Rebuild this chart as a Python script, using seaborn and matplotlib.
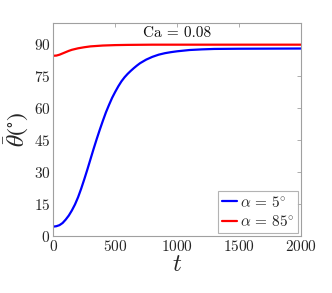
import matplotlib
matplotlib.use("Agg")
import matplotlib.pyplot as plt
import pandas as pd
import seaborn as sns

# Values #
t_blue = [0, 25, 50, 75, 100, 125, 150, 175, 200, 225, 250, 275, 300, 325,
          350, 375, 400, 425, 450, 475, 500, 525, 550, 575, 600, 625, 650,
          675, 700, 750, 800, 850, 900, 950, 1000, 1100, 1200, 1300, 1500, 2000]
theta_blue = [4.4, 4.6, 5.1, 6.1, 7.7, 9.6, 12.0, 14.8, 18.2, 22.2, 26.6,
              31.2, 36.0, 40.8, 45.4, 49.8, 54.0, 58.0, 61.5, 64.8, 67.6,
              70.2, 72.5, 74.4, 76.0, 77.4, 78.7, 79.9, 81.0, 82.7, 84.0,
              85.0, 85.7, 86.2, 86.6, 87.2, 87.5, 87.7, 87.8, 87.9]
t_red = [0, 25, 50, 75, 100, 125, 150, 200, 250, 300, 350, 400, 500, 600,
         800, 2000]
theta_red = [84.5, 84.6, 85.0, 85.6, 86.2, 86.8, 87.3, 88.0, 88.5, 88.9,
             89.1, 89.3, 89.5, 89.6, 89.7, 89.7]
labels = [r"$\alpha\,=\,5^{\circ}$", r"$\alpha\,=\,85^{\circ}$"]
x_ticks = [0, 500, 1000, 1500, 2000]
y_ticks = [0, 15, 30, 45, 60, 75, 90]

df = pd.concat([
    pd.DataFrame({"t": t_blue, "theta": theta_blue, "case": labels[0]}),
    pd.DataFrame({"t": t_red, "theta": theta_red, "case": labels[1]}),
])

sns.set_style("white")
plt.rcParams["font.family"] = ["cmr10", "DejaVu Serif"]
plt.rcParams["mathtext.fontset"] = "cm"
plt.rcParams["axes.formatter.use_mathtext"] = True

fig = plt.figure(figsize=(3.32, 2.93), dpi=100)
ax = fig.add_axes([0.1606, 0.1945, 0.746, 0.728])

sns.lineplot(data=df, x="t", y="theta", hue="case",
             palette=["#0000ff", "#ff0000"], linewidth=1.6, ax=ax)

ax.set_xlim(0, 2000)
ax.set_ylim(0, 100)
ax.set_xticks(x_ticks)
ax.set_yticks(y_ticks)
ax.tick_params(direction="in", length=3, width=0.6, color="#a0a0a0",
               labelsize=11, labelcolor="#262626", top=True, right=True,
               pad=2)
for sp in ax.spines.values():
    sp.set_color("#a0a0a0")
    sp.set_linewidth(0.8)

ax.set_xlabel(r"$t$", fontsize=18, labelpad=0)
# bar accent is drawn with the STIX math font (cm has no usable macron)
ax.set_ylabel(r"$\bar{\theta}(^{\circ})$", fontsize=17, math_fontfamily="stix")
ax.yaxis.set_label_coords(-0.09, 0.5)
ax.text(1000, 95.0, "Ca = 0.08", ha="center", va="center", fontsize=11,
        color="#111111")

leg = ax.legend(loc="lower right", fontsize=11, frameon=True, fancybox=False,
                edgecolor="#a0a0a0", handlelength=1.0, handletextpad=0.2,
                borderpad=0.25, labelspacing=0.3, borderaxespad=0.2)
leg.get_frame().set_linewidth(0.8)

fig.savefig("out.png", dpi=100)
